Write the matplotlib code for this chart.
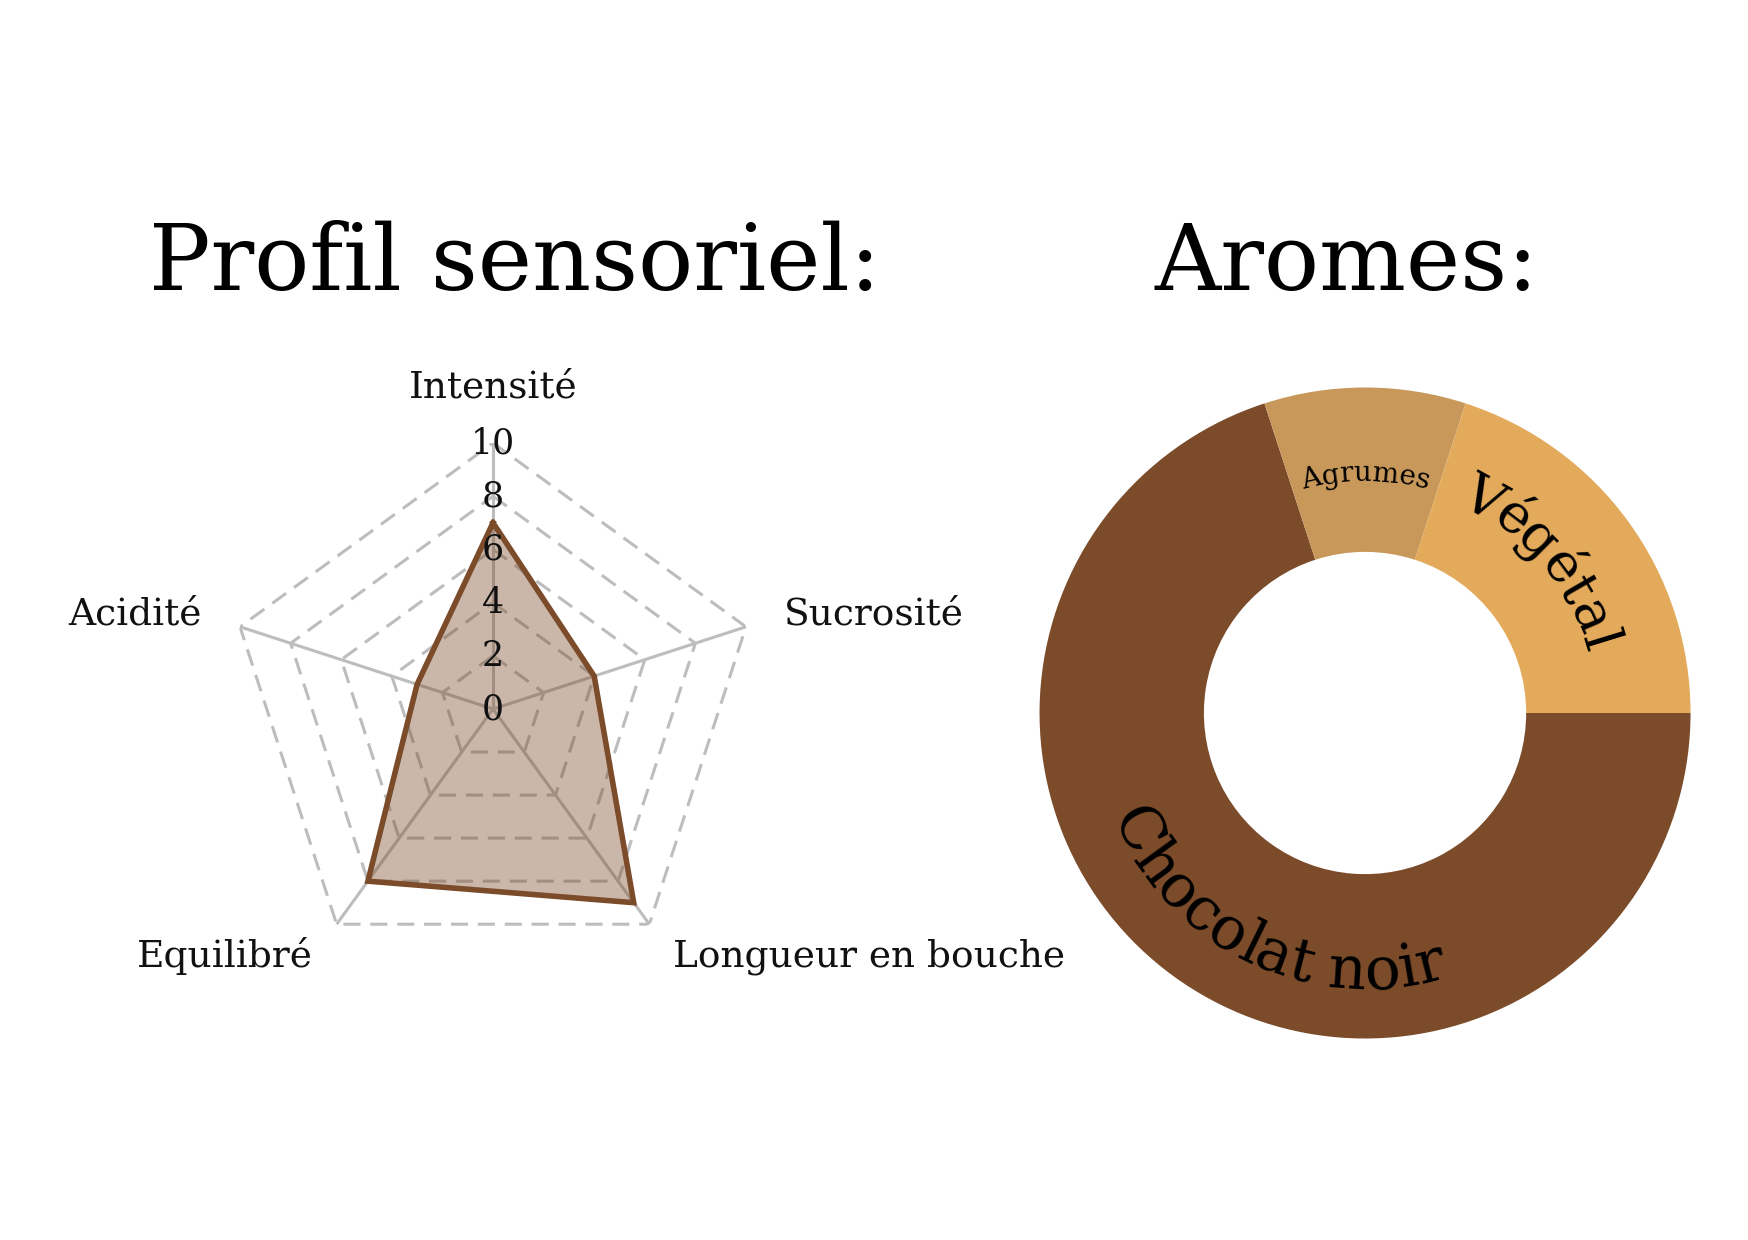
import numpy as np
from matplotlib import pyplot as plt
from matplotlib.textpath import TextToPath
from matplotlib.font_manager import FontProperties

# Données du profil sensoriel
criteres = ['Intensité', 'Sucrosité', 'Longueur en bouche', 'Equilibré', 'Acidité']
notes = [7, 4, 9, 8, 3]
graduations = [0, 2, 4, 6, 8, 10]

# Données des arômes (ordre de tracé, sens horaire depuis 3 h)
aromes = ['Chocolat noir', 'Agrumes', 'Végétal']
parts = [70, 10, 20]
couleurs = ['#7b4b2a', '#c8985a', '#e3aa5b']

POLICE = 'DejaVu Serif'
DPI = 100
MARRON = '#7b4b2a'
GRIS = '#bdbdbd'

fig = plt.figure(figsize=(17.48, 12.4), dpi=DPI)
fig.patch.set_facecolor('white')

# Titres
fig.text(515 / 1748, 1 - 290 / 1240, 'Profil sensoriel:', ha='center', va='baseline',
         fontsize=66, family=POLICE, color='black')
fig.text(1347 / 1748, 1 - 290 / 1240, 'Aromes:', ha='center', va='baseline',
         fontsize=66, family=POLICE, color='black')

# ---- Radar ----
ax = fig.add_axes([0.12986, 0.21371, 0.30435, 0.42903], projection='polar')
ax.set_theta_zero_location('N')
ax.set_theta_direction(-1)
ax.set_ylim(0, 10)
ax.grid(False)
ax.set_xticks([])
ax.set_yticks([])
ax.spines['polar'].set_visible(False)
ax.patch.set_alpha(0)

n = len(criteres)
angles = np.linspace(0, 2 * np.pi, n, endpoint=False)
angles_fermes = np.append(angles, angles[0])

# Rayons
for a in angles:
    ax.plot([a, a], [0, 10], color=GRIS, lw=2.2, zorder=1)

# Pentagones en pointillés
for g in graduations[1:]:
    ax.plot(angles_fermes, [g] * (n + 1), color=GRIS, lw=2.2, dashes=(5.6, 3.2), zorder=1)

valeurs = np.append(notes, notes[0])
ax.fill(angles_fermes, valeurs, color=MARRON, alpha=0.4, lw=0, zorder=2)
ax.plot(angles_fermes, valeurs, color=MARRON, lw=4, zorder=3, solid_joinstyle='miter')

for g in graduations:
    ax.text(0, g, str(g), ha='center', va='center', fontsize=25, family=POLICE,
            color='#111111', zorder=4)

for a, nom in zip(angles, criteres):
    deg = np.degrees(a) % 360
    if deg < 1:
        ha, va, r_lab = 'center', 'bottom', 11.4
    elif deg < 180:
        ha, va, r_lab = 'left', 'center', 11.5
    else:
        ha, va, r_lab = 'right', 'center', 11.5
    ax.text(a, r_lab, nom, ha=ha, va=va, fontsize=27, family=POLICE,
            color='#111111', clip_on=False)

# ---- Donut ----
R_PX = 325.5
ax2 = fig.add_axes([0.5947, 0.1625, 0.37243, 0.525])
ax2.pie(parts, colors=couleurs, startangle=0, counterclock=False,
        wedgeprops=dict(width=0.505, linewidth=0))
ax2.set_xlim(-1, 1)
ax2.set_ylim(-1, 1)
ax2.set_aspect('equal')
ax2.axis('off')

ttp = TextToPath()


def avance(s, prop):
    if not s:
        return 0.0
    w, _, _ = ttp.get_text_width_height_descent(s + '|', prop, ismath=False)
    w0, _, _ = ttp.get_text_width_height_descent('|', prop, ismath=False)
    return (w - w0) * DPI / 72


def texte_courbe(axe, texte, angle_centre, rayon_px, taille, vers_exterieur):
    prop = FontProperties(family=POLICE, size=taille)
    bords = [avance(texte[:k], prop) for k in range(len(texte) + 1)]
    total = bords[-1]
    r = rayon_px / R_PX
    for k, ch in enumerate(texte):
        if ch == ' ':
            continue
        milieu = (bords[k] + bords[k + 1]) / 2 - total / 2
        d = np.degrees(milieu / rayon_px)
        if vers_exterieur:
            theta = angle_centre - d
            rot = theta - 90
        else:
            theta = angle_centre + d
            rot = theta + 90
        t = np.radians(theta)
        axe.text(r * np.cos(t), r * np.sin(t), ch, rotation=rot, rotation_mode='anchor',
                 ha='center', va='baseline', fontsize=taille, family=POLICE, color='black')


texte_courbe(ax2, 'Végétal', 40.5, 229, 39, True)
texte_courbe(ax2, 'Agrumes', 90, 232, 20, True)
texte_courbe(ax2, 'Chocolat noir', 245, 276, 43, False)

plt.savefig('out.png', dpi=DPI, facecolor='white')
